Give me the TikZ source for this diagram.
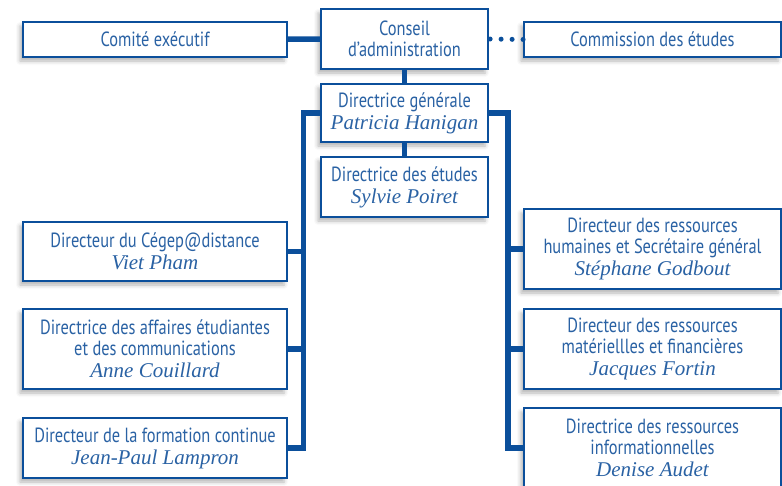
\documentclass[tikz,border=0pt]{standalone}
\usepackage{fontspec}
\newfontfamily\boxfont{PT Sans}[FakeStretch=0.8]
\newfontfamily\namefont{Liberation Serif}
\usetikzlibrary{
  positioning,
  calc,
  shadows.blur
}
\definecolor{cegepblue}{HTML}{0B4F9B}
\definecolor{cegeptext}{HTML}{2A62A4}

\tikzset{
  box/.style={draw=cegepblue, line width=1.2pt, fill=white, align=center,
    inner sep=0pt, text=cegeptext,
    font=\boxfont\fontsize{20.5}{21}\selectfont,
    blur shadow={shadow xshift=-3pt, shadow yshift=-4pt,
      shadow blur radius=4pt, shadow opacity=30}},
  sidebox/.style={box, minimum width=264pt},
  midbox/.style={box, minimum width=167pt},
  rightbox/.style={box, minimum width=257pt},
  link/.style={draw=cegepblue, line width=5.5pt},
  dotlink/.style={draw=cegepblue, line width=5pt, line cap=round,
    dash pattern=on 0pt off 11pt}
}
\newcommand{\who}[1]{\\[1pt]{\namefont\itshape\fontsize{21}{21}\selectfont #1}}

\begin{document}
\begin{tikzpicture}[x=1pt,y=-1pt]
      \useasboundingbox (0,0) rectangle (782,485);

      % top row
      \node[sidebox,minimum height=35pt] (ex) at (155,39.5) {Comit\'e ex\'ecutif};
      \node[midbox,minimum height=60pt] (ca) at (404.5,39) {Conseil\\d’administration};
      \node[rightbox,minimum height=35pt] (ce) at (652.5,39.5) {Commission des \'etudes};

      % direction
      \node[midbox,minimum height=58pt] (dg) at (404.5,113) {Directrice g\'en\'erale\who{Patricia Hanigan}};
      \node[midbox,minimum height=60pt] (de) at (404.5,187) {Directrice des \'etudes\who{Sylvie Poiret}};

      % left column
      \node[sidebox,minimum height=59pt] (cd) at (155,251.5) {Directeur du C\'egep@distance\who{Viet Pham}};
      \node[sidebox,minimum height=80pt] (ae) at (155,349) {Directrice des affaires \'etudiantes\\et des communications\who{Anne Couillard}};
      \node[sidebox,minimum height=60pt] (fc) at (155,448) {Directeur de la formation continue\who{Jean-Paul Lampron}};

      % right column
      \node[rightbox,minimum height=80pt] (rh) at (652.5,249) {Directeur des ressources\\humaines et Secr\'etaire g\'en\'eral\who{St\'ephane Godbout}};
      \node[rightbox,minimum height=80pt] (rm) at (652.5,349) {Directeur des ressources\\mat\'eriellles et financi\`eres\who{Jacques Fortin}};
      \node[rightbox,minimum height=80pt] (ri) at (652.5,448) {Directrice des ressources\\informationnelles\who{Denise Audet}};

      \coordinate (lbus) at (303.5,0);
      \coordinate (rbus) at (508,0);

      \draw[link] (ex) -- (ca);
      \draw[dotlink] ($(ca.east)+(1.5,0)$) -- (ce.west);
      \draw[link] (ca) -- (dg);
      \draw[link] (dg) -- (de);

      \draw[link] (dg.west) -| (lbus |- fc.east) -- (fc.east);
      \draw[link] (cd.east) -- (lbus |- cd.east);
      \draw[link] (ae.east) -- (lbus |- ae.east);

      \draw[link] (dg.east) -| (rbus |- ri.west) -- (ri.west);
      \draw[link] (rh.west) -- (rbus |- rh.west);
      \draw[link] (rm.west) -- (rbus |- rm.west);
    \end{tikzpicture}
\end{document}
